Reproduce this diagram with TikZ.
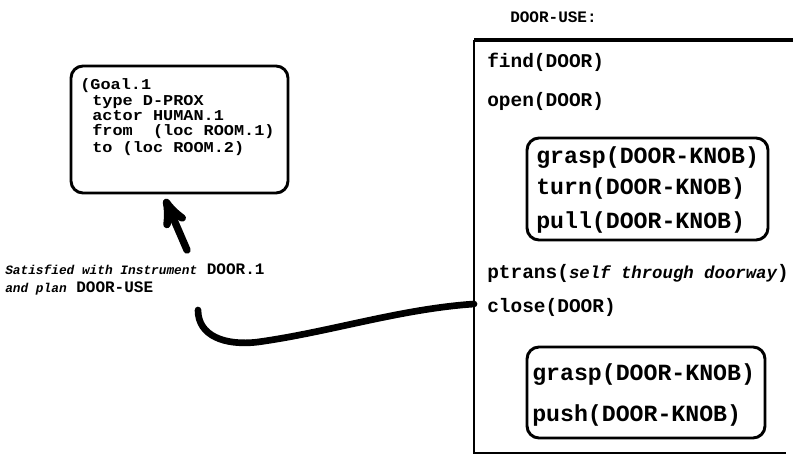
\documentclass[tikz,border=0pt]{standalone}
\usepackage{fontspec}
\setmonofont{Liberation Mono}
\newfontfamily\widemono{Liberation Mono}[FakeStretch=1.12]
\usepackage{tikz}
\usetikzlibrary{arrows}
\usetikzlibrary{positioning}

\begin{document}
\begin{tikzpicture}[x=0.75pt,y=-0.75pt,>=stealth',
  step text/.style={anchor=base west,inner sep=0pt,font=\ttfamily\bfseries\fontsize{14.6pt}{16pt}\selectfont},
  knob text/.style={anchor=base west,inner sep=0pt,font=\ttfamily\bfseries\fontsize{17.4pt}{19pt}\selectfont},
  goal text/.style={anchor=base west,inner sep=0pt,font=\widemono\bfseries\fontsize{11.3pt}{12pt}\selectfont},
  note text/.style={anchor=base west,inner sep=0pt,font=\ttfamily\bfseries\fontsize{12pt}{14pt}\selectfont},
  round box/.style={draw,line width=2.2pt,rounded corners=9pt}]

  \useasboundingbox (0,0) rectangle (793,467);

  % goal frame
  \draw[round box] (71,66) rectangle (288,193);
  \node[goal text] (g1) at (80,90) {(Goal.1};
  \node[goal text] (g2) at (92,106) {type D-PROX};
  \node[goal text] (g3) at (92,121) {actor HUMAN.1};
  \node[goal text] (g4) at (92,136) {from~~(loc ROOM.1)};
  \node[goal text] (g5) at (92,152) {to (loc ROOM.2)};

  % satisfaction note
  \node[note text] (n1) at (5,274) {{\itshape\fontsize{9.6pt}{12pt}\selectfont Satisfied with Instrument} DOOR.1};
  \node[note text] (n2) at (5,292) {{\itshape\fontsize{9.6pt}{12pt}\selectfont and plan} DOOR-USE};
  \coordinate (tipA) at (165,199);
  \coordinate (tailA) at (187,250);
  \draw[->,line width=5.5pt,line cap=round] (tailA) -- (tipA);

  % the plan frame
  \node[note text] (title) at (510,23) {DOOR-USE:};
  \coordinate (ptop) at (474,40);
  \coordinate (pbot) at (474,453);
  \draw[line width=1.6pt] (ptop) -- (pbot) -- (786,453);
  \draw[line width=3.5pt] (ptop) -- (795,40);

  \node[step text] (s1) at (487,68) {find(DOOR)};
  \node[step text] (s2) at (487,107) {open(DOOR)};

  \draw[round box] (527,138) rectangle (768,240);
  \node[knob text] (k1) at (536,163) {grasp(DOOR-KNOB)};
  \node[knob text] (k2) at (536,195) {turn(DOOR-KNOB)};
  \node[knob text] (k3) at (536,228) {pull(DOOR-KNOB)};

  \node[step text] (s3) at (487,278) {ptrans({\itshape\fontsize{13pt}{14pt}\selectfont self through doorway})};
  \node[step text] (s4) at (487,312) {close(DOOR)};

  \draw[round box] (527,347) rectangle (765,438);
  \node[knob text] (k4) at (532,380) {grasp(DOOR-KNOB)};
  \node[knob text] (k5) at (532,421) {push(DOOR-KNOB)};

  % link from the note to the plan
  \coordinate (lstart) at (198,310);
  \coordinate (lend) at (474,304);
  \draw[line width=5pt,line cap=round] (lstart) .. controls (198,336) and (225,346) .. (258,342)
    .. controls (330,332) and (400,309) .. (lend);
\end{tikzpicture}
\end{document}
